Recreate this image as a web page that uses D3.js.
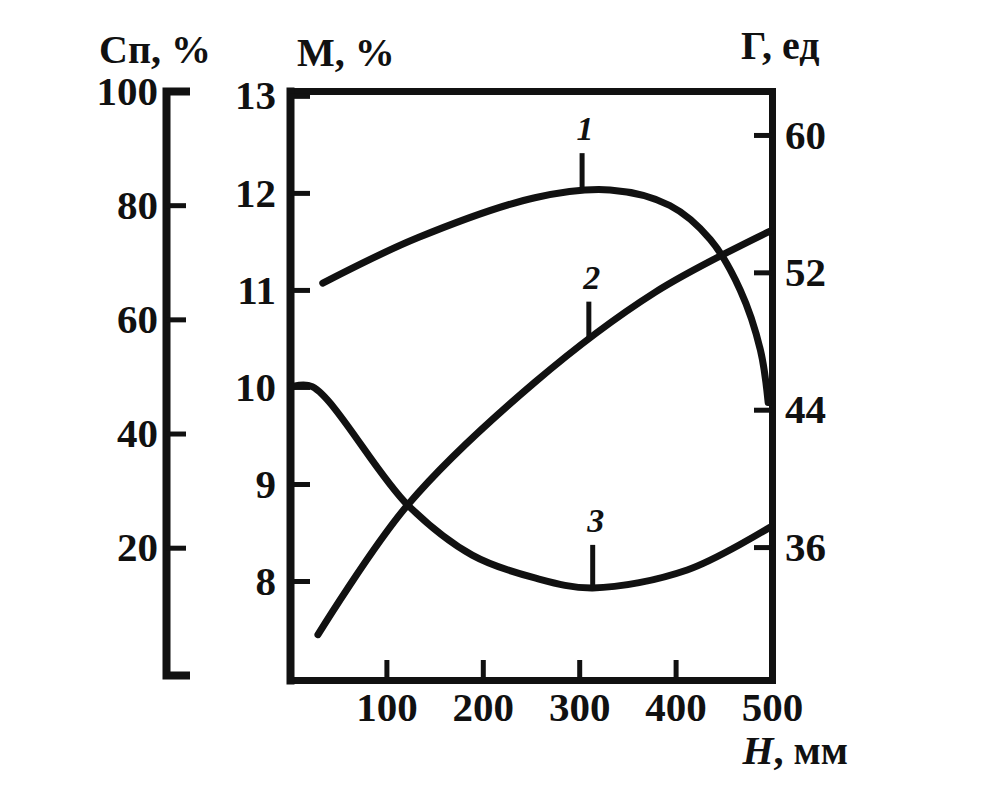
<!DOCTYPE html>
<html>
<head>
<meta charset="utf-8">
<script src="https://cdn.jsdelivr.net/npm/d3@7"></script>
<style>
  body { margin: 0; background: #fff; }
  text { font-family: "Liberation Serif", "DejaVu Serif", serif; font-weight: bold; fill: #111; }
  .axis path, .axis line { stroke: #111; }
</style>
</head>
<body>
<div id="chart"></div>
<script>
// H, мм
const xTicks = [100, 200, 300, 400, 500];
const spTicks = [20, 40, 60, 80, 100];
const mTicks = [8, 9, 10, 11, 12, 13];
const gTicks = [36, 44, 52, 60];

// curve 1 — M, %
const curve1H = [34, 133, 254, 332, 394, 436, 467, 488, 496];
const curve1M = [11.07, 11.54, 11.95, 12.03, 11.87, 11.52, 11.0, 10.38, 9.84];

// curve 2 — Г, ед
const curve2H = [29, 122, 254, 379, 498];
const curve2G = [30.9, 38.45, 45.6, 50.85, 54.4];

// curve 3 — Сп, %
const curve3H = [2, 23, 122, 189, 254, 314, 412, 498];
const curve3Sp = [48.2, 48.2, 27.5, 18.7, 14.7, 12.96, 16.1, 23.6];

const curveLabels = ["1", "2", "3"];
const labelH = [303, 310, 314];

const svg = d3.select("#chart")
    .append("svg")
    .attr("width", 994)
    .attr("height", 788);

const x = d3.scaleLinear().domain([0, 500]).range([290, 772]);
const yM = d3.scaleLinear().domain([6.98, 13.05]).range([680, 91]);
const yG = d3.scaleLinear().domain([28.26, 62.56]).range([680, 91]);
const ySp = d3.scaleLinear().domain([-2.3, 100]).range([675, 91]);

function styleAxis(g, w) {
    g.attr("class", "axis");
    g.select(".domain").attr("stroke-width", w).attr("stroke-linecap", "square");
    g.selectAll(".tick line").attr("stroke-width", 5);
    g.selectAll("text").style("font-size", "41px").attr("fill", "#111");
}

// box top
svg.append("g")
    .attr("transform", "translate(0, 91)")
    .call(d3.axisTop(x).tickValues([]).tickSizeOuter(0))
    .call(g => styleAxis(g, 7));

// bottom axis
svg.append("g")
    .attr("transform", "translate(0, 680)")
    .call(d3.axisBottom(x).tickValues(xTicks).tickSizeInner(-20).tickSizeOuter(0).tickPadding(12))
    .call(g => styleAxis(g, 7));

// M axis
svg.append("g")
    .attr("transform", "translate(290, 0)")
    .call(d3.axisLeft(yM).tickValues(mTicks).tickFormat(d3.format("d"))
        .tickSizeInner(-20).tickSizeOuter(0).tickPadding(14))
    .call(g => styleAxis(g, 8));

// Г axis
svg.append("g")
    .attr("transform", "translate(772, 0)")
    .call(d3.axisRight(yG).tickValues(gTicks).tickSizeInner(-18).tickSizeOuter(0).tickPadding(13))
    .call(g => styleAxis(g, 7));

// Сп axis
svg.append("g")
    .attr("transform", "translate(166, 0)")
    .call(d3.axisLeft(ySp).tickValues(spTicks).tickSizeInner(-20).tickSizeOuter(-20).tickPadding(8))
    .call(g => styleAxis(g, 8));

// axis titles
svg.append("text").attr("x", 99).attr("y", 63).style("font-size", "40px").text("Сп, %");
svg.append("text").attr("x", 297).attr("y", 66).style("font-size", "40px").text("М, %");
svg.append("text").attr("x", 741).attr("y", 59).style("font-size", "40px").text("Г, ед");

const hTitle = svg.append("text")
    .attr("x", 848).attr("y", 764)
    .attr("text-anchor", "end")
    .style("font-size", "40px");
hTitle.append("tspan").style("font-style", "italic").text("H");
hTitle.append("tspan").text(", мм");

// curves
const curves = [
    { h: curve1H, v: curve1M, y: yM },
    { h: curve2H, v: curve2G, y: yG },
    { h: curve3H, v: curve3Sp, y: ySp }
];

const line = d3.line().curve(d3.curveCatmullRom.alpha(0.5));
const paths = [];

curves.forEach(c => {
    const pts = c.h.map((h, i) => [x(h), c.y(c.v[i])]);
    paths.push(svg.append("path")
        .attr("d", line(pts))
        .attr("fill", "none")
        .attr("stroke", "#111")
        .attr("stroke-width", 7)
        .attr("stroke-linecap", "round"));
});

// find where a drawn curve passes a given x
function curveYAt(pathSel, px) {
    const node = pathSel.node();
    const len = node.getTotalLength();
    let lo = 0, hi = len;
    for (let k = 0; k < 40; k++) {
        const mid = (lo + hi) / 2;
        if (node.getPointAtLength(mid).x < px) lo = mid; else hi = mid;
    }
    return node.getPointAtLength(lo).y;
}

// curve number marks
const leaderLen = [37, 37, 43];
curves.forEach((c, i) => {
    const lx = x(labelH[i]);
    const cy = curveYAt(paths[i], lx);
    svg.append("line")
        .attr("x1", lx).attr("x2", lx)
        .attr("y1", cy - leaderLen[i]).attr("y2", cy)
        .attr("stroke", "#111")
        .attr("stroke-width", 5);
    svg.append("text")
        .attr("x", lx + 3)
        .attr("y", cy - leaderLen[i] - 13)
        .attr("text-anchor", "middle")
        .style("font-size", "34px")
        .style("font-style", "italic")
        .text(curveLabels[i]);
});
</script>
</body>
</html>
